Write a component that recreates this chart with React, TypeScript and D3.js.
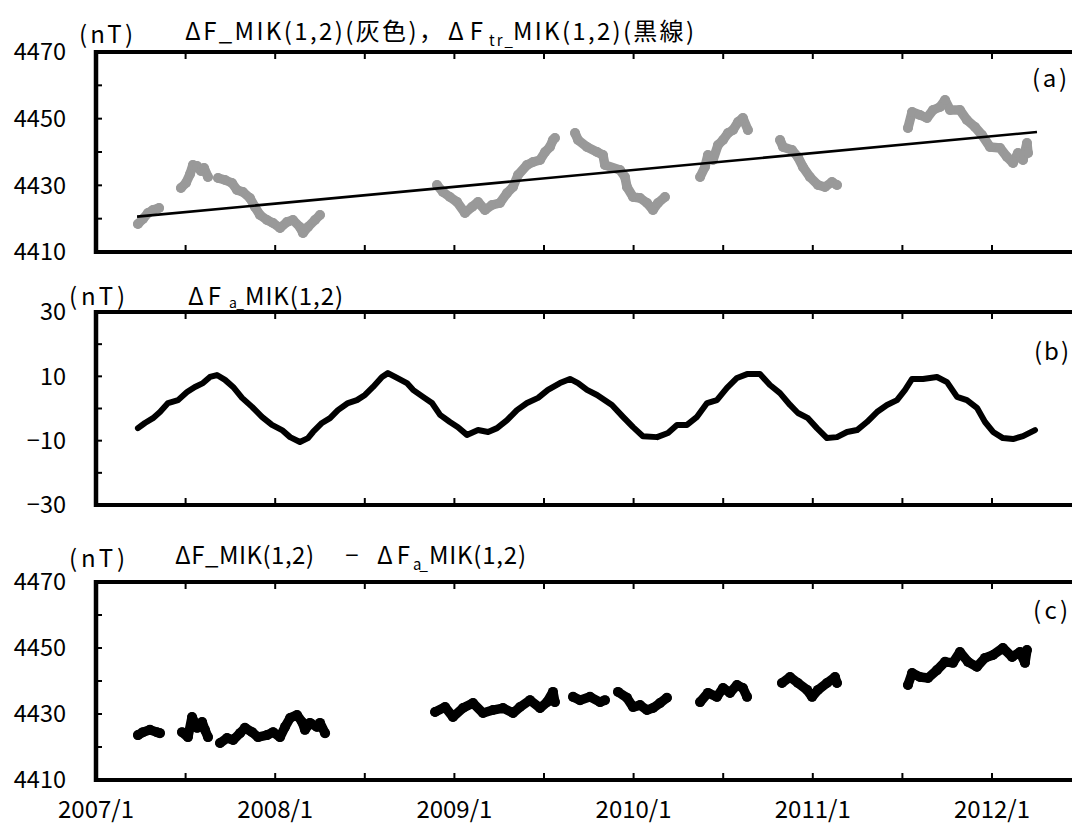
import React from 'react';
import * as d3 from 'd3';

// time = years since 2007/1
const xTickTimes = [0.5, 1, 1.5, 2, 2.5, 3, 3.5, 4, 4.5, 5];
const xLabelTimes = [0, 1, 2, 3, 4, 5];
const xLabels = ['2007/1', '2008/1', '2009/1', '2010/1', '2011/1', '2012/1'];

// Panel (a): ΔF_MIK(1,2) gray points, segments
const aTimes = [
  [0.234, 0.262, 0.290, 0.318, 0.352],
  [0.474, 0.502, 0.525, 0.541, 0.564, 0.586, 0.603, 0.625],
  [0.681, 0.720, 0.759, 0.787, 0.820, 0.859, 0.887, 0.915, 0.954, 0.988, 1.027, 1.066, 1.099, 1.138, 1.155, 1.183, 1.222, 1.250],
  [1.903, 1.936, 1.975, 2.015, 2.059, 2.098, 2.132, 2.171, 2.210, 2.254, 2.294, 2.327, 2.355, 2.405, 2.439, 2.478, 2.506, 2.533, 2.550, 2.561],
  [2.673, 2.690, 2.740, 2.796, 2.829, 2.840, 2.924, 2.952, 2.963, 2.997, 3.036, 3.075, 3.108, 3.136, 3.175],
  [3.371, 3.398, 3.415, 3.443, 3.471, 3.499, 3.527, 3.555, 3.583, 3.610, 3.638],
  [3.817, 3.834, 3.884, 3.917, 3.945, 3.984, 4.029, 4.068, 4.107, 4.135],
  [4.531, 4.554, 4.598, 4.637, 4.671, 4.710, 4.738, 4.766, 4.821, 4.860, 4.905, 4.944, 4.989, 5.045, 5.084, 5.117, 5.145, 5.173, 5.195, 5.201],
];
const aValues = [
  [4418.4, 4419.9, 4421.7, 4422.6, 4423.2],
  [4429.2, 4430.7, 4433.4, 4436.1, 4435.8, 4434.3, 4435.2, 4432.5],
  [4432.2, 4431.6, 4430.7, 4428.6, 4428.0, 4426.2, 4423.5, 4421.1, 4419.6, 4418.7, 4417.2, 4419.0, 4419.6, 4417.5, 4415.7, 4417.5, 4419.6, 4421.1],
  [4430.1, 4428.0, 4426.5, 4425.0, 4421.7, 4423.5, 4425.0, 4422.6, 4424.1, 4424.7, 4427.7, 4429.5, 4433.1, 4436.1, 4437.0, 4437.6, 4440.0, 4441.5, 4443.6, 4444.2],
  [4445.7, 4443.6, 4441.5, 4440.0, 4439.1, 4436.1, 4434.6, 4432.5, 4429.5, 4426.5, 4426.2, 4424.7, 4422.6, 4424.7, 4426.5],
  [4432.5, 4435.5, 4439.1, 4437.6, 4442.1, 4443.6, 4445.7, 4446.6, 4449.0, 4450.2, 4446.6],
  [4443.6, 4441.5, 4440.6, 4438.5, 4435.5, 4432.5, 4430.1, 4429.5, 4431.0, 4430.1],
  [4447.2, 4452.0, 4451.1, 4450.2, 4452.6, 4453.5, 4455.6, 4452.6, 4452.6, 4449.6, 4447.5, 4445.1, 4441.5, 4441.2, 4438.5, 4436.7, 4439.7, 4437.6, 4442.7, 4439.7],
];
// Panel (a): trend line ΔF_tr
const trendTimes = [0.229, 5.251];
const trendValues = [4420.6, 4446.0];

// Panel (b): ΔF_a_MIK(1,2)
const bTimes = [0.234, 0.273, 0.318, 0.357, 0.402, 0.458, 0.508, 0.552, 0.597, 0.636,
  0.675, 0.720, 0.765, 0.815, 0.871, 0.926, 0.982, 1.038, 1.083, 1.138,
  1.183, 1.211, 1.261, 1.306, 1.350, 1.406, 1.456, 1.501, 1.546, 1.596,
  1.629, 1.680, 1.735, 1.769, 1.825, 1.875, 1.920, 1.975, 2.020, 2.070,
  2.132, 2.188, 2.238, 2.294, 2.349, 2.405, 2.467, 2.522, 2.589, 2.645,
  2.690, 2.740, 2.796, 2.879, 2.941, 2.997, 3.052, 3.131, 3.192, 3.242,
  3.298, 3.354, 3.410, 3.465, 3.521, 3.577, 3.633, 3.705, 3.761, 3.817,
  3.873, 3.917, 3.973, 4.023, 4.079, 4.135, 4.191, 4.247, 4.302, 4.358,
  4.414, 4.470, 4.515, 4.554, 4.615, 4.693, 4.749, 4.805, 4.860, 4.916,
  4.961, 5.006, 5.061, 5.117, 5.173, 5.240];
const bValues = [-6.1, -4.5, -3.0, -1.1, 1.7, 2.6, 5.1, 6.7, 7.9, 9.8,
  10.4, 8.9, 6.7, 3.3, 0.5, -2.6, -5.1, -6.7, -8.9, -10.4,
  -9.2, -7.3, -4.5, -3.0, -0.5, 1.7, 2.6, 4.2, 6.7, 9.8,
  11.0, 9.5, 7.9, 5.8, 3.6, 1.7, -2.0, -4.2, -5.8, -8.2,
  -6.7, -7.3, -6.1, -3.6, -0.5, 1.7, 3.3, 5.8, 7.9, 9.2,
  7.9, 5.8, 4.2, 1.1, -2.6, -5.8, -8.6, -8.9, -7.6, -5.1,
  -5.1, -2.6, 1.7, 2.6, 6.4, 9.5, 10.7, 10.7, 7.3, 4.8,
  1.1, -1.4, -3.0, -6.1, -9.2, -8.9, -7.3, -6.7, -4.2, -1.1,
  1.1, 2.6, 5.8, 9.2, 9.2, 9.8, 8.2, 3.6, 2.6, 0.2,
  -4.2, -7.3, -9.2, -9.5, -8.6, -6.7];

// Panel (c): ΔF_MIK(1,2) − ΔF_a_MIK(1,2)
const cTimes = [
  [0.234, 0.262, 0.301, 0.340, 0.357],
  [0.480, 0.513, 0.536, 0.564, 0.592, 0.608, 0.625],
  [0.692, 0.731, 0.765, 0.804, 0.831, 0.871, 0.904, 0.954, 0.988, 1.027, 1.055, 1.083, 1.122, 1.150, 1.166, 1.194, 1.233, 1.250, 1.278],
  [1.892, 1.948, 1.992, 2.048, 2.104, 2.160, 2.215, 2.271, 2.327, 2.366, 2.422, 2.478, 2.517, 2.550, 2.561],
  [2.662, 2.701, 2.757, 2.813, 2.840],
  [2.913, 2.963, 2.997, 3.036, 3.075, 3.108, 3.147, 3.186],
  [3.371, 3.415, 3.465, 3.499, 3.538, 3.577, 3.610, 3.633],
  [3.828, 3.873, 3.917, 3.968, 3.996, 4.029, 4.079, 4.124, 4.135],
  [4.531, 4.554, 4.598, 4.643, 4.693, 4.738, 4.782, 4.821, 4.866, 4.916, 4.961, 5.006, 5.061, 5.112, 5.156, 5.184, 5.195],
];
const cValues = [
  [4423.6, 4424.5, 4425.2, 4424.5, 4424.2],
  [4424.5, 4423.0, 4429.1, 4425.8, 4427.6, 4425.2, 4423.0],
  [4421.2, 4422.7, 4422.1, 4424.2, 4425.8, 4424.5, 4423.0, 4423.6, 4424.5, 4423.0, 4426.1, 4428.8, 4429.7, 4427.6, 4425.2, 4427.3, 4426.1, 4427.3, 4424.2],
  [4430.6, 4432.1, 4429.1, 4431.8, 4433.3, 4430.3, 4431.2, 4431.8, 4430.3, 4432.1, 4434.2, 4431.8, 4433.6, 4436.7, 4433.6],
  [4435.2, 4434.2, 4435.2, 4433.6, 4434.2],
  [4436.7, 4434.9, 4432.1, 4432.7, 4431.2, 4431.8, 4433.3, 4434.9],
  [4433.6, 4436.4, 4435.2, 4437.9, 4436.4, 4438.8, 4437.9, 4435.2],
  [4439.4, 4441.2, 4439.4, 4437.3, 4435.2, 4437.3, 4439.4, 4441.2, 4439.4],
  [4438.8, 4442.4, 4441.2, 4440.9, 4443.3, 4445.8, 4445.5, 4448.8, 4445.8, 4444.3, 4447.0, 4447.9, 4450.0, 4447.3, 4448.8, 4445.5, 4449.4],
];

const ticksFA = [4410, 4420, 4430, 4440, 4450, 4460, 4470];
const labelsFA = [4410, 4430, 4450, 4470];
const ticksB = [-30, -20, -10, 0, 10, 20, 30];
const labelsB = [-30, -10, 10, 30];

const FONT = "'Noto Sans CJK JP', 'Noto Sans', sans-serif";
const LEFT = 96;
const RIGHT = 1081.6;
const EDGE = 1072;

const x = d3.scaleLinear().domain([0, 5.5]).range([LEFT, RIGHT]);

function fmt(v: number) {
  return v < 0 ? '\u2212' + Math.abs(v) : String(v);
}

function T({ x: tx, y: ty, len, fs = 24, anchor = 'start', children }: { x: number; y: number; len?: number; fs?: number; anchor?: string; children: React.ReactNode }) {
  return (
    <text x={tx} y={ty} fontSize={fs} textAnchor={anchor} textLength={len} lengthAdjust="spacing">
      {children}
    </text>
  );
}

function Frame({ y, ticks, labels }: { y: d3.ScaleLinear<number, number>; ticks: number[]; labels: number[] }) {
  const [bottom, top] = y.range();
  return (
    <g>
      {ticks.map((v) => (
        <line key={'yt' + v} x1={LEFT} x2={LEFT + 6} y1={y(v)} y2={y(v)} stroke="#000" strokeWidth={2} />
      ))}
      {xTickTimes.map((t) => (
        <g key={'xt' + t}>
          <line x1={x(t)} x2={x(t)} y1={top} y2={top + 7} stroke="#000" strokeWidth={2} />
          <line x1={x(t)} x2={x(t)} y1={bottom} y2={bottom - 7} stroke="#000" strokeWidth={2} />
        </g>
      ))}
      <line x1={LEFT} x2={EDGE} y1={top} y2={top} stroke="#000" strokeWidth={4} />
      <line x1={LEFT} x2={EDGE} y1={bottom} y2={bottom} stroke="#000" strokeWidth={4} />
      <line x1={LEFT} x2={LEFT} y1={top - 2} y2={bottom + 2} stroke="#000" strokeWidth={4.5} />
      {labels.map((v) => (
        <text key={'yl' + v} x={66} y={y(v)} dy="0.36em" textAnchor="end" fontSize={23.5}>
          {fmt(v)}
        </text>
      ))}
    </g>
  );
}

function Dots({ times, values, y, color }: { times: number[][]; values: number[][]; y: d3.ScaleLinear<number, number>; color: string }) {
  return (
    <g>
      {times.map((ts, si) => {
        const pts: [number, number][] = ts.map((t, i) => [x(t), y(values[si][i])]);
        const path = d3.line()(pts) || '';
        return (
          <g key={si}>
            <path d={path} fill="none" stroke={color} strokeWidth={9.5} strokeLinejoin="round" strokeLinecap="round" />
            {pts.map((p, i) => (
              <circle key={i} cx={p[0]} cy={p[1]} r={5} fill={color} />
            ))}
          </g>
        );
      })}
    </g>
  );
}

export default function App() {
  const yA = d3.scaleLinear().domain([4410, 4470]).range([252, 52]);
  const yB = d3.scaleLinear().domain([-30, 30]).range([505, 312]);
  const yC = d3.scaleLinear().domain([4410, 4470]).range([780, 582]);

  const bPath = d3.line<number>().x((_, i) => x(bTimes[i])).y((v) => yB(v))(bValues) || '';
  const trendPath = d3.line<number>().x((_, i) => x(trendTimes[i])).y((v) => yA(v))(trendValues) || '';

  return (
    <svg width={1072} height={825} overflow="hidden" style={{ position: 'absolute', left: 0, top: 0, background: '#fff', display: 'block' }} fontFamily={FONT} fill="#000">
      <rect x={0} y={0} width={1072} height={825} fill="#fff" />
      {/* Panel (a) */}
      <Dots times={aTimes} values={aValues} y={yA} color="#999999" />
      <path d={trendPath} fill="none" stroke="#000" strokeWidth={2.6} />
      <Frame y={yA} ticks={ticksFA} labels={labelsFA} />
      <T x={79} y={43} len={54}>(nT)</T>
      <T x={185} y={40} len={258}>ΔF_MIK(1,2)(灰色)，</T>
      <T x={448} y={40} len={35}>ΔF</T>
      <T x={489} y={46} len={24} fs={15}>tr_</T>
      <T x={513} y={40} len={181}>MIK(1,2)(黒線)</T>
      <T x={1032} y={87} len={35}>(a)</T>

      {/* Panel (b) */}
      <path d={bPath} fill="none" stroke="#000" strokeWidth={6} strokeLinejoin="round" strokeLinecap="round" />
      <Frame y={yB} ticks={ticksB} labels={labelsB} />
      <T x={69} y={305} len={56}>(nT)</T>
      <T x={188} y={305} len={33}>ΔF</T>
      <T x={229} y={308} len={15} fs={14}>a_</T>
      <T x={245} y={305} len={98}>MIK(1,2)</T>
      <T x={1034} y={360} len={35}>(b)</T>

      {/* Panel (c) */}
      <Dots times={cTimes} values={cValues} y={yC} color="#000" />
      <Frame y={yC} ticks={ticksFA} labels={labelsFA} />
      <T x={69} y={567} len={56}>(nT)</T>
      <T x={175} y={564} len={139}>ΔF_MIK(1,2)</T>
      <T x={352} y={564} anchor="middle">−</T>
      <T x={377} y={564} len={33}>ΔF</T>
      <T x={413} y={570} len={15} fs={15}>a_</T>
      <T x={429} y={564} len={97}>MIK(1,2)</T>
      <T x={1033} y={619} len={35}>(c)</T>

      {xLabelTimes.map((t, i) => (
        <T key={t} x={x(t) - 38} y={818} len={76}>{xLabels[i]}</T>
      ))}
    </svg>
  );
}
